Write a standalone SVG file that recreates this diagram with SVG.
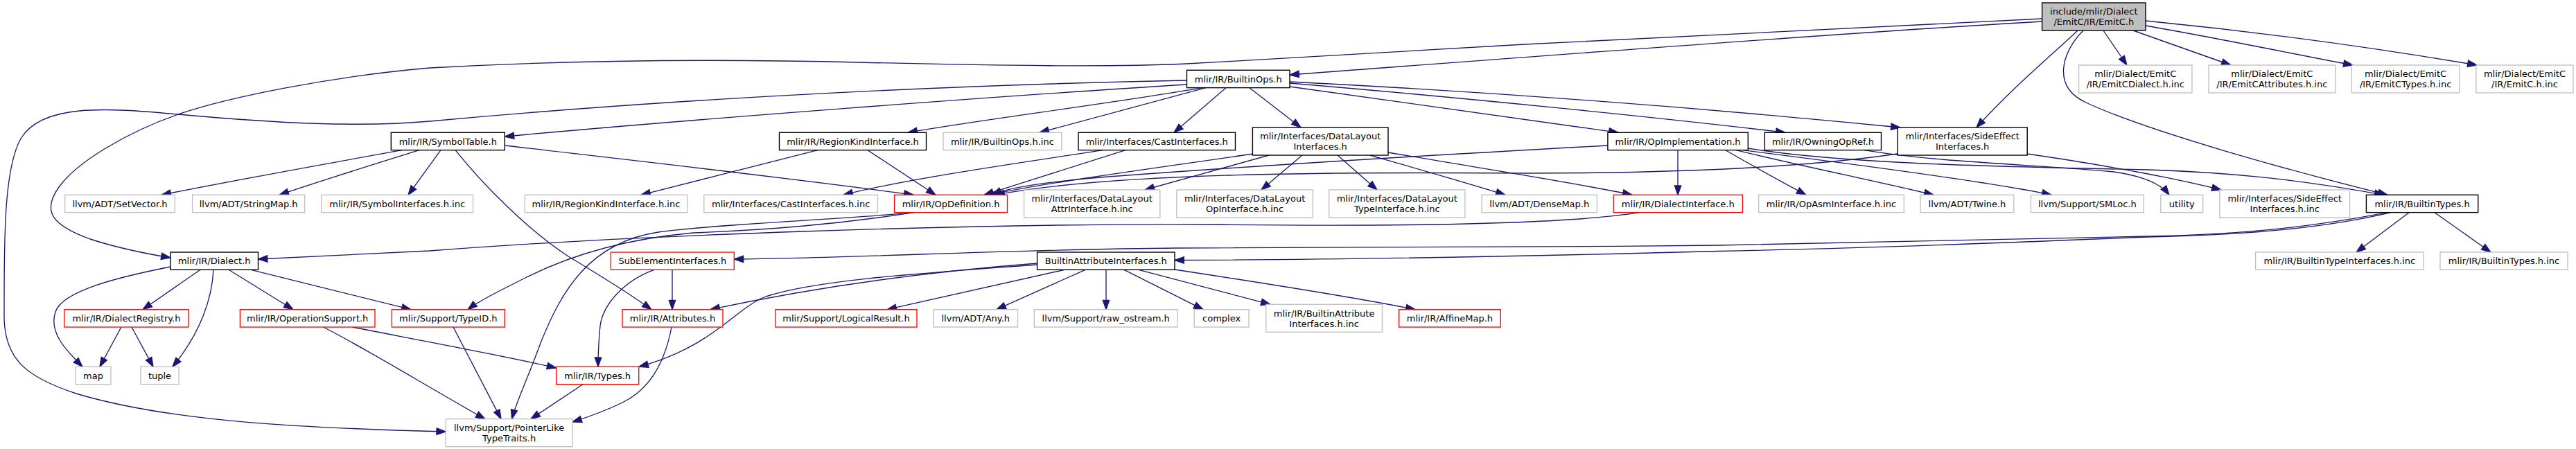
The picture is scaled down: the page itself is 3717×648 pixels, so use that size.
<svg xmlns="http://www.w3.org/2000/svg" width="3717" height="648" viewBox="0 0 3717 648">
<style>
rect.g{fill:#fff;stroke:#bfbfbf;stroke-width:1.33}
rect.b{fill:#fff;stroke:#000;stroke-width:1.4}
rect.r{fill:#fff;stroke:#ff0000;stroke-width:1.33}
rect.t{fill:#bfbfbf;stroke:#000;stroke-width:1.4}
text{font-family:"DejaVu Sans","Liberation Sans",sans-serif;font-size:13px;text-anchor:middle;fill:#000}
#edges path{fill:none;stroke:#191970;stroke-width:1.33;marker-end:url(#a)}
</style>
<defs>
<marker id="a" markerUnits="userSpaceOnUse" markerWidth="15" markerHeight="11" refX="13.33" refY="5" orient="auto" viewBox="0 0 15 11" overflow="visible">
<path d="M0,0.33 L13.33,5 L0,9.67z" fill="#191970" stroke="#191970" stroke-width="1.33"/>
</marker>
</defs>
<rect x="0" y="0" width="3717" height="648" fill="#fff"/>
<g id="edges">
<path d="M2947,27 C2750,35 2480,48 2200,64 C2000,75 1860,84 1712,92 C1600,97 1450,95 1240,90 C1000,84 800,88 620,98 C480,110 330,140 257,165 C180,192 110,235 85,270 C60,305 75,325 130,345 C170,358 210,366 246,372"/>
<path d="M2947,31 C2700,45 2300,75 1861,108"/>
<path d="M1712.5,116 C1400,122 1000,140 620,175 C520,184 400,178 257,165 C150,155 60,150 30,200 C5,245 6,350 6,456 C6,520 40,545 110,568 C250,610 450,618 643.3,623"/>
<path d="M1712.5,122 C1450,138 1000,172 728.3,197"/>
<path d="M1735,126.7 C1600,150 1420,172 1310,191.3"/>
<path d="M1740,126.7 L1500,191.3"/>
<path d="M1769,126.7 L1694,191.3"/>
<path d="M1803,126.7 L1877,184"/>
<path d="M1861,125 C2050,150 2200,172 2335,191.3"/>
<path d="M1861,118 C2200,135 2500,160 2742,184"/>
<path d="M1861,120 C2100,140 2400,170 2576,191.3"/>
<path d="M2998,44 C2960,80 2900,130 2852,184"/>
<path d="M3006,44 C2975,75 2960,125 3010,148 C3100,190 3300,245 3445,281.3"/>
<path d="M3035,44 L3069,94"/>
<path d="M3078,44 L3219,94"/>
<path d="M3096,37 C3200,55 3320,80 3395,94"/>
<path d="M3096,30 C3300,50 3480,78 3574,94"/>
<path d="M580,216.7 C450,240 330,262 233,281.3"/>
<path d="M605,216.7 C530,240 460,262 403,281.3"/>
<path d="M636,216.7 L589,281.3"/>
<path d="M728.3,210 C900,230 1150,258 1318,281.3"/>
<path d="M657,216.7 C700,270 760,330 820,370 C870,400 910,425 940,446.7"/>
<path d="M1180,216.7 L925,281.3"/>
<path d="M1252,216.7 L1350,281.3"/>
<path d="M1592,216.7 C1450,238 1300,260 1217,281.3"/>
<path d="M1624,216.7 L1420,281.3"/>
<path d="M1808,222 C1650,245 1500,265 1428,281.3"/>
<path d="M1831,224 L1652,274"/>
<path d="M1879,224 L1820,274"/>
<path d="M1930,224 L1987,274"/>
<path d="M1977,224 C2050,245 2120,265 2172,281.3"/>
<path d="M2003,220 C2150,245 2280,265 2355,281.3"/>
<path d="M2320,210 C2100,222 1800,240 1600,255 C1500,263 1450,272 1432,281.3"/>
<path d="M2421,216.7 L2421,281.3"/>
<path d="M2490,216.7 C2530,240 2570,262 2606,281.3"/>
<path d="M2505,216.7 C2600,240 2720,264 2790,281.3"/>
<path d="M2515,216.7 C2700,240 2880,264 2960,281.3"/>
<path d="M2522,214 C2650,235 2850,240 3100,245 C3250,250 3350,265 3440,281.3"/>
<path d="M2690,216.7 C2800,235 2950,238 3050,248 C3100,255 3120,268 3130,281.3"/>
<path d="M2925,222 C3050,240 3150,260 3205,274"/>
<path d="M2738,222 C2600,242 2400,250 2200,250 C1900,248 1600,250 1436,281.3"/>
<path d="M2366,306.7 C2250,325 2000,327 1750,324 C1400,322 900,340 620,362 C500,368 420,372 372.5,374"/>
<path d="M1319,306.7 C1200,318 1050,322 950,335 C850,350 810,420 780,495 C760,550 745,580 738.6,604.67"/>
<path d="M1319,306.7 C1200,325 1100,332 1000,336 C900,345 820,370 760,400 C720,420 690,435 675,446.7"/>
<path d="M3476,306.7 L3400,364"/>
<path d="M3513,306.7 L3594,364"/>
<path d="M3445,306.7 C3350,325 3250,338 3100,341 C2900,346 2700,351 2480,354 C2200,357 1900,358 1700,358 C1450,360 1250,372 1059.3,374"/>
<path d="M3450,306.7 C3360,328 3250,339 3100,342 C2900,350 2700,358 2480,362.5 C2200,370 1900,375 1695,375.5"/>
<path d="M1496.6,380 C1300,395 1150,420 1025,446.7"/>
<path d="M1496.6,382 C1350,393 1180,403 1105,428 C1060,445 1030,500 922,529.3"/>
<path d="M1536,389.3 L1280,446.7"/>
<path d="M1566,389.3 L1438,446.7"/>
<path d="M1596,389.3 L1596,446.7"/>
<path d="M1622,389.3 L1736,446.7"/>
<path d="M1643,389.3 L1833,439.3"/>
<path d="M1695,389 C1800,405 1950,428 2042,446.7"/>
<path d="M970,389.3 L970,446.7"/>
<path d="M944,389.3 C900,405 870,440 866,470 C864,490 863,510 863,529.3"/>
<path d="M969,472 C960,520 940,560 900,580 C870,595 845,603 826,609"/>
<path d="M841,554.7 L766,604.67"/>
<path d="M654,472 L723,604.67"/>
<path d="M466.6,472 C540,510 620,560 700,604.67"/>
<path d="M508,472 C600,490 720,512 802.7,531"/>
<path d="M246,385 C170,400 90,420 80,450 C70,480 95,505 119,529.3"/>
<path d="M289,389.3 L206,446.7"/>
<path d="M308,389.3 C306,430 290,480 249,529.3"/>
<path d="M330,389.3 L423,446.7"/>
<path d="M362,389.3 L593,446.7"/>
<path d="M175,472 L144,529.3"/>
<path d="M190,472 L221,529.3"/>
</g>
<g id="n0"><rect class="t" x="2946.6" y="4" width="149.4" height="40"/><text x="3021.3" y="21.2">include/mlir/Dialect</text><text x="3021.3" y="36.2">/EmitC/IR/EmitC.h</text></g>
<g id="n1"><rect class="b" x="1712.5" y="101.3" width="148.5" height="25.33"/><text x="1786.75" y="118.7">mlir/IR/BuiltinOps.h</text></g>
<g id="n2"><rect class="g" x="2999.6" y="94" width="163.3" height="40"/><text x="3081.25" y="111.2">mlir/Dialect/EmitC</text><text x="3081.25" y="126.2">/IR/EmitCDialect.h.inc</text></g>
<g id="n3"><rect class="g" x="3187" y="94" width="182.7" height="40"/><text x="3278.35" y="111.2">mlir/Dialect/EmitC</text><text x="3278.35" y="126.2">/IR/EmitCAttributes.h.inc</text></g>
<g id="n4"><rect class="g" x="3393.4" y="94" width="155.4" height="40"/><text x="3471.1" y="111.2">mlir/Dialect/EmitC</text><text x="3471.1" y="126.2">/IR/EmitCTypes.h.inc</text></g>
<g id="n5"><rect class="g" x="3572.9" y="94" width="140.1" height="40"/><text x="3643" y="111.2">mlir/Dialect/EmitC</text><text x="3643" y="126.2">/IR/EmitC.h.inc</text></g>
<g id="n6"><rect class="b" x="564.3" y="191.3" width="164" height="25.33"/><text x="646.3" y="208.7">mlir/IR/SymbolTable.h</text></g>
<g id="n7"><rect class="b" x="1124.5" y="191.3" width="212" height="25.33"/><text x="1230.5" y="208.7">mlir/IR/RegionKindInterface.h</text></g>
<g id="n8"><rect class="g" x="1361" y="191.3" width="170.8" height="25.33"/><text x="1446.4" y="208.7">mlir/IR/BuiltinOps.h.inc</text></g>
<g id="n9"><rect class="b" x="1556" y="191.3" width="226.5" height="25.33"/><text x="1669.25" y="208.7">mlir/Interfaces/CastInterfaces.h</text></g>
<g id="n10"><rect class="b" x="1807.4" y="184" width="195.6" height="40"/><text x="1905.2" y="201.2">mlir/Interfaces/DataLayout</text><text x="1905.2" y="216.2">Interfaces.h</text></g>
<g id="n11"><rect class="b" x="2319.9" y="191.3" width="202.4" height="25.33"/><text x="2421.1" y="208.7">mlir/IR/OpImplementation.h</text></g>
<g id="n12"><rect class="b" x="2546.4" y="191.3" width="168.1" height="25.33"/><text x="2630.45" y="208.7">mlir/IR/OwningOpRef.h</text></g>
<g id="n13"><rect class="b" x="2738.2" y="184" width="187" height="40"/><text x="2831.7" y="201.2">mlir/Interfaces/SideEffect</text><text x="2831.7" y="216.2">Interfaces.h</text></g>
<g id="n14"><rect class="g" x="93.7" y="281.3" width="158.6" height="25.33"/><text x="173" y="298.7">llvm/ADT/SetVector.h</text></g>
<g id="n15"><rect class="g" x="277.6" y="281.3" width="162.1" height="25.33"/><text x="358.65" y="298.7">llvm/ADT/StringMap.h</text></g>
<g id="n16"><rect class="g" x="463.8" y="281.3" width="218.7" height="25.33"/><text x="573.15" y="298.7">mlir/IR/SymbolInterfaces.h.inc</text></g>
<g id="n17"><rect class="g" x="757.2" y="281.3" width="234.5" height="25.33"/><text x="874.45" y="298.7">mlir/IR/RegionKindInterface.h.inc</text></g>
<g id="n18"><rect class="g" x="1015.8" y="281.3" width="250.7" height="25.33"/><text x="1141.15" y="298.7">mlir/Interfaces/CastInterfaces.h.inc</text></g>
<g id="n19"><rect class="r" x="1290.6" y="281.3" width="162.9" height="25.33"/><text x="1372.05" y="298.7">mlir/IR/OpDefinition.h</text></g>
<g id="n20"><rect class="g" x="1477.6" y="274" width="196.2" height="40"/><text x="1575.7" y="291.2">mlir/Interfaces/DataLayout</text><text x="1575.7" y="306.2">AttrInterface.h.inc</text></g>
<g id="n21"><rect class="g" x="1697.9" y="274" width="196.5" height="40"/><text x="1796.15" y="291.2">mlir/Interfaces/DataLayout</text><text x="1796.15" y="306.2">OpInterface.h.inc</text></g>
<g id="n22"><rect class="g" x="1917.7" y="274" width="196.2" height="40"/><text x="2015.8" y="291.2">mlir/Interfaces/DataLayout</text><text x="2015.8" y="306.2">TypeInterface.h.inc</text></g>
<g id="n23"><rect class="g" x="2138" y="281.3" width="166.4" height="25.33"/><text x="2221.2" y="298.7">llvm/ADT/DenseMap.h</text></g>
<g id="n24"><rect class="r" x="2328.2" y="281.3" width="186.2" height="25.33"/><text x="2421.3" y="298.7">mlir/IR/DialectInterface.h</text></g>
<g id="n25"><rect class="g" x="2537.7" y="281.3" width="209.6" height="25.33"/><text x="2642.5" y="298.7">mlir/IR/OpAsmInterface.h.inc</text></g>
<g id="n26"><rect class="g" x="2771" y="281.3" width="134.9" height="25.33"/><text x="2838.45" y="298.7">llvm/ADT/Twine.h</text></g>
<g id="n27"><rect class="g" x="2930.4" y="281.3" width="162.9" height="25.33"/><text x="3011.85" y="298.7">llvm/Support/SMLoc.h</text></g>
<g id="n28"><rect class="g" x="3117.8" y="281.3" width="60.9" height="25.33"/><text x="3148.25" y="298.7">utility</text></g>
<g id="n29"><rect class="g" x="3202.8" y="274" width="187.8" height="40"/><text x="3296.7" y="291.2">mlir/Interfaces/SideEffect</text><text x="3296.7" y="306.2">Interfaces.h.inc</text></g>
<g id="n30"><rect class="b" x="3414.4" y="281.3" width="161.3" height="25.33"/><text x="3495.05" y="298.7">mlir/IR/BuiltinTypes.h</text></g>
<g id="n31"><rect class="b" x="246" y="364" width="126.5" height="25.33"/><text x="309.25" y="381.4">mlir/IR/Dialect.h</text></g>
<g id="n32"><rect class="r" x="881.4" y="364" width="177.9" height="25.33"/><text x="970.35" y="381.4">SubElementInterfaces.h</text></g>
<g id="n33"><rect class="b" x="1496.6" y="364" width="198.4" height="25.33"/><text x="1595.8" y="381.4">BuiltinAttributeInterfaces.h</text></g>
<g id="n34"><rect class="g" x="3254.6" y="364" width="242.4" height="25.33"/><text x="3375.8" y="381.4">mlir/IR/BuiltinTypeInterfaces.h.inc</text></g>
<g id="n35"><rect class="g" x="3521" y="364" width="184" height="25.33"/><text x="3613" y="381.4">mlir/IR/BuiltinTypes.h.inc</text></g>
<g id="n36"><rect class="r" x="92.9" y="446.7" width="179.1" height="25.33"/><text x="182.45" y="464.1">mlir/IR/DialectRegistry.h</text></g>
<g id="n37"><rect class="r" x="346.4" y="446.7" width="194.6" height="25.33"/><text x="443.7" y="464.1">mlir/IR/OperationSupport.h</text></g>
<g id="n38"><rect class="r" x="565.4" y="446.7" width="162.9" height="25.33"/><text x="646.85" y="464.1">mlir/Support/TypeID.h</text></g>
<g id="n39"><rect class="r" x="898" y="446.7" width="145" height="25.33"/><text x="970.5" y="464.1">mlir/IR/Attributes.h</text></g>
<g id="n40"><rect class="r" x="1119" y="446.7" width="204" height="25.33"/><text x="1221" y="464.1">mlir/Support/LogicalResult.h</text></g>
<g id="n41"><rect class="g" x="1347" y="446.7" width="121.5" height="25.33"/><text x="1407.75" y="464.1">llvm/ADT/Any.h</text></g>
<g id="n42"><rect class="g" x="1492.3" y="446.7" width="206.7" height="25.33"/><text x="1595.65" y="464.1">llvm/Support/raw_ostream.h</text></g>
<g id="n43"><rect class="g" x="1723.2" y="446.7" width="78.8" height="25.33"/><text x="1762.6" y="464.1">complex</text></g>
<g id="n44"><rect class="g" x="1826.8" y="439.3" width="167.6" height="40"/><text x="1910.6" y="456.5">mlir/IR/BuiltinAttribute</text><text x="1910.6" y="471.5">Interfaces.h.inc</text></g>
<g id="n45"><rect class="r" x="2018.6" y="446.7" width="146.7" height="25.33"/><text x="2091.95" y="464.1">mlir/IR/AffineMap.h</text></g>
<g id="n46"><rect class="g" x="109" y="529.3" width="51" height="25.33"/><text x="134.5" y="546.7">map</text></g>
<g id="n47"><rect class="g" x="203" y="529.3" width="55" height="25.33"/><text x="230.5" y="546.7">tuple</text></g>
<g id="n48"><rect class="r" x="802.7" y="529.3" width="119" height="25.33"/><text x="862.2" y="546.7">mlir/IR/Types.h</text></g>
<g id="n49"><rect class="g" x="643.3" y="604.67" width="182.7" height="40"/><text x="734.65" y="621.9">llvm/Support/PointerLike</text><text x="734.65" y="636.9">TypeTraits.h</text></g>
</svg>
